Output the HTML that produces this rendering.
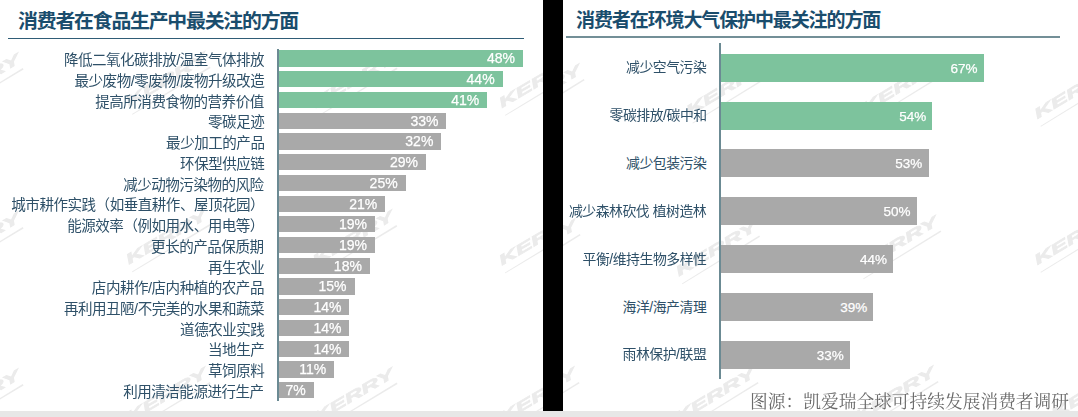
<!DOCTYPE html>
<html lang="zh-CN"><head><meta charset="utf-8"><title>消费者调研图表</title>
<style>
html,body{margin:0;padding:0;background:#fff}
body{width:1078px;height:417px;overflow:hidden;font-family:"Liberation Sans",sans-serif}
#stage{position:relative;width:1078px;height:417px;overflow:hidden;background:#fff;filter:blur(0.4px)}
.wm{position:absolute;left:0;top:0}
.t{display:block;overflow:visible}
.title{position:absolute;margin:0;padding:0;font-size:0;line-height:0}
.rule{position:absolute}
.axis{position:absolute;width:2px;background:#6b8a93}
.lab{position:absolute;line-height:0}
.bar{position:absolute;box-sizing:border-box;color:#ffffff;-webkit-text-stroke:0.25px #ffffff;text-align:right;white-space:nowrap;overflow:hidden}
.bar.g{background:#7dc39d}
.bar.n{background:#a9a9a9}
.divider{position:absolute;top:0;background:#000}
.band{position:absolute;left:0;width:1078px;background:#e7e7e7}
.foot{position:absolute;line-height:0}
.tt{font-family:"Liberation Sans","Noto Sans CJK SC",sans-serif;font-weight:bold;fill:#1a4d6d}
.lt{font-family:"Liberation Sans","Noto Sans CJK SC",sans-serif;fill:#2e5068}
.ft{font-family:"Liberation Serif","Noto Serif CJK SC",serif;fill:#6a6a6a}
</style></head>
<body>
<div id="stage">
<svg class="wm" width="1078" height="417" viewBox="0 0 1078 417" aria-hidden="true"><defs><clipPath id="cl"><rect x="0" y="0" width="543" height="410.5"/></clipPath><clipPath id="cr"><rect x="562.4" y="0" width="516" height="410.5"/></clipPath><g id="wm"><text x="9" y="5" text-anchor="end" font-family="Liberation Sans, sans-serif" font-weight="bold" font-style="italic" font-size="14" textLength="92" lengthAdjust="spacingAndGlyphs" stroke="#b4b4b4" stroke-width="0.7">KERRY</text><path d="M-84 12.6 L7 11.2 L7 12.8 L-84 13.4z"/></g></defs><g clip-path="url(#cl)" fill="#b4b4b4" opacity="0.27"><use href="#wm" transform="translate(11 62) rotate(-30.5)"/><use href="#wm" transform="translate(198 60.5) rotate(-30.5)"/><use href="#wm" transform="translate(385 61.5) rotate(-30.5)"/><use href="#wm" transform="translate(571 61.5) rotate(-30.5)"/><use href="#wm" transform="translate(11 221) rotate(-30.5)"/><use href="#wm" transform="translate(198 218) rotate(-30.5)"/><use href="#wm" transform="translate(384.7 219) rotate(-30.5)"/><use href="#wm" transform="translate(571 219) rotate(-30.5)"/><use href="#wm" transform="translate(11 378) rotate(-30.5)"/><use href="#wm" transform="translate(198 376) rotate(-30.5)"/><use href="#wm" transform="translate(385 376.5) rotate(-30.5)"/><use href="#wm" transform="translate(571 376.5) rotate(-30.5)"/></g><g clip-path="url(#cr)" fill="#b4b4b4" opacity="0.27"><use href="#wm" transform="translate(572 73) rotate(-31)"/><use href="#wm" transform="translate(758 68.7) rotate(-31)"/><use href="#wm" transform="translate(933 66.7) rotate(-31)"/><use href="#wm" transform="translate(1106 72) rotate(-31)"/><use href="#wm" transform="translate(568 228) rotate(-31)"/><use href="#wm" transform="translate(747.5 229.5) rotate(-31)"/><use href="#wm" transform="translate(928.7 224.5) rotate(-31)"/><use href="#wm" transform="translate(1106 218) rotate(-31)"/><use href="#wm" transform="translate(567 376) rotate(-31)"/><use href="#wm" transform="translate(746 376) rotate(-31)"/><use href="#wm" transform="translate(926 375) rotate(-31)"/><use href="#wm" transform="translate(1123 372) rotate(-31)"/></g></svg>
<section class="chart left">
<h2 class="title" style="left:17.70px;top:7.00px"><svg class="t" width="280.05" height="26.14" viewBox="0 0 280.05 26.14"><text class="tt" x="0" y="20.92" font-size="19.88" letter-spacing="-1.2">消费者在食品生产中最关注的方面</text></svg></h2>
<div class="rule" style="left:7.50px;top:38.00px;width:516.50px;height:1.30px;background:#2f5c76"></div>
<div class="lab" style="right:814.00px;top:50.25px"><svg class="t" width="203.17" height="19.70" viewBox="0 0 203.17 19.70"><text class="lt" x="203.17" y="15.38" font-size="14.56" letter-spacing="-0.5" text-anchor="end">降低二氧化碳排放/温室气体排放</text></svg></div>
<div class="bar g" style="left:278.00px;top:50.40px;width:245.04px;height:16.20px;line-height:17.20px;font-size:14.00px;padding-right:8.00px">48%</div>
<div class="lab" style="right:814.00px;top:70.98px"><svg class="t" width="195.29" height="19.70" viewBox="0 0 195.29 19.70"><text class="lt" x="195.29" y="15.38" font-size="14.56" letter-spacing="-0.5" text-anchor="end">最少废物/零废物/废物升级改造</text></svg></div>
<div class="bar g" style="left:278.00px;top:71.13px;width:224.62px;height:16.20px;line-height:17.20px;font-size:14.00px;padding-right:8.00px">44%</div>
<div class="lab" style="right:814.00px;top:91.71px"><svg class="t" width="168.84" height="19.70" viewBox="0 0 168.84 19.70"><text class="lt" x="168.84" y="15.38" font-size="14.56" letter-spacing="-0.5" text-anchor="end">提高所消费食物的营养价值</text></svg></div>
<div class="bar g" style="left:278.00px;top:91.86px;width:209.31px;height:16.20px;line-height:17.20px;font-size:14.00px;padding-right:8.00px">41%</div>
<div class="lab" style="right:814.00px;top:112.44px"><svg class="t" width="56.28" height="19.70" viewBox="0 0 56.28 19.70"><text class="lt" x="56.28" y="15.38" font-size="14.56" letter-spacing="-0.5" text-anchor="end">零碳足迹</text></svg></div>
<div class="bar n" style="left:278.00px;top:112.59px;width:168.47px;height:16.20px;line-height:17.20px;font-size:14.00px;padding-right:8.00px">33%</div>
<div class="lab" style="right:814.00px;top:133.17px"><svg class="t" width="98.49" height="19.70" viewBox="0 0 98.49 19.70"><text class="lt" x="98.49" y="15.38" font-size="14.56" letter-spacing="-0.5" text-anchor="end">最少加工的产品</text></svg></div>
<div class="bar n" style="left:278.00px;top:133.32px;width:163.36px;height:16.20px;line-height:17.20px;font-size:14.00px;padding-right:8.00px">32%</div>
<div class="lab" style="right:814.00px;top:153.90px"><svg class="t" width="84.42" height="19.70" viewBox="0 0 84.42 19.70"><text class="lt" x="84.42" y="15.38" font-size="14.56" letter-spacing="-0.5" text-anchor="end">环保型供应链</text></svg></div>
<div class="bar n" style="left:278.00px;top:154.05px;width:148.05px;height:16.20px;line-height:17.20px;font-size:14.00px;padding-right:8.00px">29%</div>
<div class="lab" style="right:814.00px;top:174.63px"><svg class="t" width="140.70" height="19.70" viewBox="0 0 140.70 19.70"><text class="lt" x="140.70" y="15.38" font-size="14.56" letter-spacing="-0.5" text-anchor="end">减少动物污染物的风险</text></svg></div>
<div class="bar n" style="left:278.00px;top:174.78px;width:127.63px;height:16.20px;line-height:17.20px;font-size:14.00px;padding-right:8.00px">25%</div>
<div class="lab" style="right:814.00px;top:195.36px"><svg class="t" width="253.26" height="19.70" viewBox="0 0 253.26 19.70"><text class="lt" x="253.26" y="15.38" font-size="14.56" letter-spacing="-0.5" text-anchor="end">城市耕作实践（如垂直耕作、屋顶花园）</text></svg></div>
<div class="bar n" style="left:278.00px;top:195.51px;width:107.21px;height:16.20px;line-height:17.20px;font-size:14.00px;padding-right:8.00px">21%</div>
<div class="lab" style="right:814.00px;top:216.09px"><svg class="t" width="196.98" height="19.70" viewBox="0 0 196.98 19.70"><text class="lt" x="196.98" y="15.38" font-size="14.56" letter-spacing="-0.5" text-anchor="end">能源效率（例如用水、用电等）</text></svg></div>
<div class="bar n" style="left:278.00px;top:216.24px;width:97.00px;height:16.20px;line-height:17.20px;font-size:14.00px;padding-right:8.00px">19%</div>
<div class="lab" style="right:814.00px;top:236.82px"><svg class="t" width="112.56" height="19.70" viewBox="0 0 112.56 19.70"><text class="lt" x="112.56" y="15.38" font-size="14.56" letter-spacing="-0.5" text-anchor="end">更长的产品保质期</text></svg></div>
<div class="bar n" style="left:278.00px;top:236.97px;width:97.00px;height:16.20px;line-height:17.20px;font-size:14.00px;padding-right:8.00px">19%</div>
<div class="lab" style="right:814.00px;top:257.55px"><svg class="t" width="56.28" height="19.70" viewBox="0 0 56.28 19.70"><text class="lt" x="56.28" y="15.38" font-size="14.56" letter-spacing="-0.5" text-anchor="end">再生农业</text></svg></div>
<div class="bar n" style="left:278.00px;top:257.70px;width:91.89px;height:16.20px;line-height:17.20px;font-size:14.00px;padding-right:8.00px">18%</div>
<div class="lab" style="right:814.00px;top:278.28px"><svg class="t" width="175.03" height="19.70" viewBox="0 0 175.03 19.70"><text class="lt" x="175.03" y="15.38" font-size="14.56" letter-spacing="-0.5" text-anchor="end">店内耕作/店内种植的农产品</text></svg></div>
<div class="bar n" style="left:278.00px;top:278.43px;width:76.58px;height:16.20px;line-height:17.20px;font-size:14.00px;padding-right:8.00px">15%</div>
<div class="lab" style="right:814.00px;top:299.01px"><svg class="t" width="203.17" height="19.70" viewBox="0 0 203.17 19.70"><text class="lt" x="203.17" y="15.38" font-size="14.56" letter-spacing="-0.5" text-anchor="end">再利用丑陋/不完美的水果和蔬菜</text></svg></div>
<div class="bar n" style="left:278.00px;top:299.16px;width:71.47px;height:16.20px;line-height:17.20px;font-size:14.00px;padding-right:8.00px">14%</div>
<div class="lab" style="right:814.00px;top:319.74px"><svg class="t" width="84.42" height="19.70" viewBox="0 0 84.42 19.70"><text class="lt" x="84.42" y="15.38" font-size="14.56" letter-spacing="-0.5" text-anchor="end">道德农业实践</text></svg></div>
<div class="bar n" style="left:278.00px;top:319.89px;width:71.47px;height:16.20px;line-height:17.20px;font-size:14.00px;padding-right:8.00px">14%</div>
<div class="lab" style="right:814.00px;top:340.47px"><svg class="t" width="56.28" height="19.70" viewBox="0 0 56.28 19.70"><text class="lt" x="56.28" y="15.38" font-size="14.56" letter-spacing="-0.5" text-anchor="end">当地生产</text></svg></div>
<div class="bar n" style="left:278.00px;top:340.62px;width:71.47px;height:16.20px;line-height:17.20px;font-size:14.00px;padding-right:8.00px">14%</div>
<div class="lab" style="right:814.00px;top:361.20px"><svg class="t" width="56.28" height="19.70" viewBox="0 0 56.28 19.70"><text class="lt" x="56.28" y="15.38" font-size="14.56" letter-spacing="-0.5" text-anchor="end">草饲原料</text></svg></div>
<div class="bar n" style="left:278.00px;top:361.35px;width:56.16px;height:16.20px;line-height:17.20px;font-size:14.00px;padding-right:8.00px">11%</div>
<div class="lab" style="right:814.00px;top:381.93px"><svg class="t" width="140.70" height="19.70" viewBox="0 0 140.70 19.70"><text class="lt" x="140.70" y="15.38" font-size="14.56" letter-spacing="-0.5" text-anchor="end">利用清洁能源进行生产</text></svg></div>
<div class="bar n" style="left:278.00px;top:382.08px;width:35.73px;height:16.20px;line-height:17.20px;font-size:14.00px;padding-right:8.00px">7%</div>
<div class="axis" style="left:277.00px;top:48.50px;height:352.20px"></div>
</section>
<section class="chart right">
<h2 class="title" style="left:576.00px;top:6.60px"><svg class="t" width="304.30" height="25.06" viewBox="0 0 304.30 25.06"><text class="tt" x="0" y="20.07" font-size="19.06" letter-spacing="-1.16">消费者在环境大气保护中最关注的方面</text></svg></h2>
<div class="rule" style="left:566.00px;top:36.00px;width:494.00px;height:2.00px;background:#738f97"></div>
<div class="lab" style="right:371.70px;top:57.42px"><svg class="t" width="80.40" height="18.76" viewBox="0 0 80.40 18.76"><text class="lt" x="80.40" y="14.65" font-size="13.87" letter-spacing="-0.47" text-anchor="end">减少空气污染</text></svg></div>
<div class="bar g" style="left:720.00px;top:53.70px;width:263.64px;height:28.00px;line-height:29.00px;font-size:13.50px;padding-right:6.20px">67%</div>
<div class="lab" style="right:371.70px;top:105.25px"><svg class="t" width="99.70" height="18.76" viewBox="0 0 99.70 18.76"><text class="lt" x="99.70" y="14.65" font-size="13.87" letter-spacing="-0.47" text-anchor="end">零碳排放/碳中和</text></svg></div>
<div class="bar g" style="left:720.00px;top:101.53px;width:212.49px;height:28.00px;line-height:29.00px;font-size:13.50px;padding-right:6.20px">54%</div>
<div class="lab" style="right:371.70px;top:153.08px"><svg class="t" width="80.40" height="18.76" viewBox="0 0 80.40 18.76"><text class="lt" x="80.40" y="14.65" font-size="13.87" letter-spacing="-0.47" text-anchor="end">减少包装污染</text></svg></div>
<div class="bar n" style="left:720.00px;top:149.36px;width:208.56px;height:28.00px;line-height:29.00px;font-size:13.50px;padding-right:6.20px">53%</div>
<div class="lab" style="right:371.70px;top:200.91px"><svg class="t" width="137.22" height="18.76" viewBox="0 0 137.22 18.76"><text class="lt" x="137.22" y="14.65" font-size="13.87" letter-spacing="-0.47" text-anchor="end">减少森林砍伐 植树造林</text></svg></div>
<div class="bar n" style="left:720.00px;top:197.19px;width:196.75px;height:28.00px;line-height:29.00px;font-size:13.50px;padding-right:6.20px">50%</div>
<div class="lab" style="right:371.70px;top:248.74px"><svg class="t" width="126.50" height="18.76" viewBox="0 0 126.50 18.76"><text class="lt" x="126.50" y="14.65" font-size="13.87" letter-spacing="-0.47" text-anchor="end">平衡/维持生物多样性</text></svg></div>
<div class="bar n" style="left:720.00px;top:245.02px;width:173.14px;height:28.00px;line-height:29.00px;font-size:13.50px;padding-right:6.20px">44%</div>
<div class="lab" style="right:371.70px;top:296.57px"><svg class="t" width="86.30" height="18.76" viewBox="0 0 86.30 18.76"><text class="lt" x="86.30" y="14.65" font-size="13.87" letter-spacing="-0.47" text-anchor="end">海洋/海产清理</text></svg></div>
<div class="bar n" style="left:720.00px;top:292.85px;width:153.47px;height:28.00px;line-height:29.00px;font-size:13.50px;padding-right:6.20px">39%</div>
<div class="lab" style="right:371.70px;top:344.40px"><svg class="t" width="86.30" height="18.76" viewBox="0 0 86.30 18.76"><text class="lt" x="86.30" y="14.65" font-size="13.87" letter-spacing="-0.47" text-anchor="end">雨林保护/联盟</text></svg></div>
<div class="bar n" style="left:720.00px;top:340.68px;width:129.85px;height:28.00px;line-height:29.00px;font-size:13.50px;padding-right:6.20px">33%</div>
<div class="axis" style="left:719.00px;top:43.30px;height:335.50px"></div>
</section>
<div class="divider" style="left:543.00px;width:19.60px;height:410.50px"></div>
<div class="band" style="top:410.50px;height:6.50px"></div>
<div class="foot" style="left:749.70px;top:388.70px"><svg class="t" width="319.32" height="24.84" viewBox="0 0 319.32 24.84"><text class="ft" x="0" y="19.16" font-size="17.74">图源：凯爱瑞全球可持续发展消费者调研</text></svg></div>
</div>
</body></html>
